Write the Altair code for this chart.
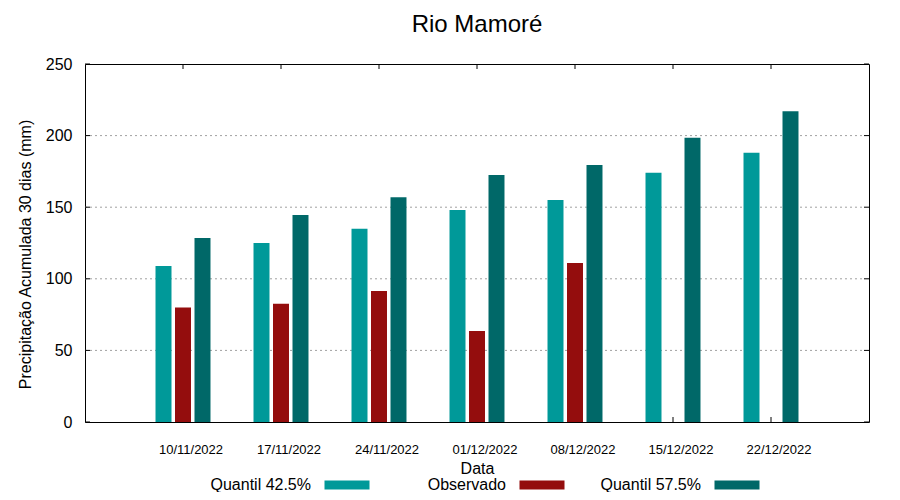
import altair as alt
import pandas as pd
import numpy as np

datas = ["10/11/2022", "17/11/2022", "24/11/2022", "01/12/2022",
         "08/12/2022", "15/12/2022", "22/12/2022"]
q425 = [109, 125, 135, 148, 155, 174, 188]
observado = [80, 82.5, 91.5, 63.5, 111, None, None]
q575 = [128.5, 144.5, 157, 172.5, 179.5, 198.5, 217]

series = ["Quantil 42.5%", "Observado", "Quantil 57.5%"]
colors = ["#009999", "#940d0d", "#006868"]
y_ticks = [0, 50, 100, 150, 200, 250]
grid_vals = [50, 100, 150, 200]

W, H = 784, 358

rows = []
for i, d in enumerate(datas):
    for s, vals in zip(series, [q425, observado, q575]):
        v = vals[i]
        rows.append({"Data": d, "Serie": s, "Valor": np.nan if v is None else v})
df = pd.DataFrame(rows)
df_dates = pd.DataFrame({"Data": datas})
df_grid = pd.DataFrame({"v": grid_vals})
df_yt = pd.DataFrame({"v": y_ticks})
df_leg = pd.DataFrame({"Serie": series})

color_scale = alt.Scale(domain=series, range=colors)
x_scale = alt.Scale(type="band", paddingInner=0.439, paddingOuter=0.7195)
y_scale = alt.Scale(domain=[0, 250], nice=False)

xenc = alt.X("Data:N", sort=datas, scale=x_scale,
             axis=alt.Axis(title="Data", labelAngle=0, ticks=False, domain=False,
                           labelFontSize=13, labelPadding=21, labelOffset=8,
                           titleFontSize=16, titleFontWeight="normal", titleY=51,
                           titleBaseline="alphabetic", labelColor="black",
                           titleColor="black"))

grid = alt.Chart(df_grid).mark_rule(color="#a0a0a0", strokeDash=[2, 3], strokeWidth=1).encode(
    y=alt.Y("v:Q", scale=y_scale), x=alt.value(0), x2=alt.value(W - 4))

top_ticks = alt.Chart(df_dates).mark_rule(color="black", strokeWidth=1).encode(
    x=xenc, y=alt.value(0), y2=alt.value(5))
bot_ticks = alt.Chart(df_dates).mark_rule(color="black", strokeWidth=1).encode(
    x=xenc, y=alt.value(H), y2=alt.value(H - 5))
left_ticks = alt.Chart(df_yt).mark_rule(color="black", strokeWidth=1).encode(
    y=alt.Y("v:Q", scale=y_scale), x=alt.value(0), x2=alt.value(5))
right_ticks = alt.Chart(df_yt).mark_rule(color="black", strokeWidth=1).encode(
    y=alt.Y("v:Q", scale=y_scale), x=alt.value(W - 5), x2=alt.value(W))

bars = alt.Chart(df).mark_bar().encode(
    x=xenc,
    xOffset=alt.XOffset("Serie:N", sort=series,
                        scale=alt.Scale(paddingInner=0.18, paddingOuter=0)),
    y=alt.Y("Valor:Q", scale=y_scale,
            axis=alt.Axis(title="Precipitação Acumulada 30 dias (mm)", values=y_ticks,
                          ticks=False, domain=False, grid=False, labelFontSize=16,
                          labelPadding=13, titleFontSize=16, titleFontWeight="normal",
                          titleX=-60, titleY=190, titleBaseline="middle",
                          labelColor="black", titleColor="black")),
    color=alt.Color("Serie:N", scale=color_scale, legend=None),
)

main = alt.layer(grid, left_ticks, right_ticks, top_ticks, bot_ticks, bars)

leg_x = alt.X("Serie:N", sort=series,
              scale=alt.Scale(type="point", range=[262, 652], padding=0), axis=None)
leg_sw = alt.Chart(df_leg).mark_point(
    shape="M-1,-0.2H1V0.2H-1Z", filled=True, opacity=1, size=2025, strokeWidth=0
).encode(x=leg_x, y=alt.value(H + 63),
         color=alt.Color("Serie:N", scale=color_scale, legend=None))
leg_tx = alt.Chart(df_leg).mark_text(
    align="right", baseline="middle", dx=-36, fontSize=16, color="black"
).encode(x=leg_x, y=alt.value(H + 63), text="Serie:N")
legend = alt.layer(leg_sw, leg_tx)

chart = alt.layer(main, legend).resolve_scale(x="independent").properties(
    width=W, height=H,
    title=alt.Title("Rio Mamoré", fontSize=24, fontWeight="normal", anchor="middle",
                    color="black", offset=19),
    padding={"left": 77, "top": 56, "right": 23, "bottom": 70},
    autosize=alt.AutoSizeParams(type="none"),
).configure(font="Liberation Sans").configure_view(stroke="black", strokeWidth=1)

chart.save("out.html", embed_options={"renderer": "svg", "actions": False})
